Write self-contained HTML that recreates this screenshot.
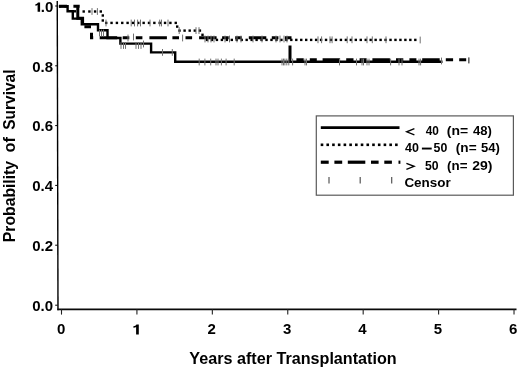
<!DOCTYPE html>
<html><head><meta charset="utf-8">
<style>
html,body{margin:0;padding:0;background:#fff;}
body{width:520px;height:369px;overflow:hidden;position:relative;}
svg{position:absolute;left:0;top:0;will-change:transform;}
text{font-family:"Liberation Sans",sans-serif;fill:#000;}
</style></head><body>
<svg width="520" height="369" viewBox="0 0 520 369">
<line x1="57.25" y1="1" x2="58.0" y2="310.15000000000003" stroke="#000" stroke-width="1.4"/>
<line x1="57.3" y1="309.35" x2="516.5" y2="309.35" stroke="#0a0a0a" stroke-width="1.6"/>
<line x1="55.2" y1="6" x2="57.55" y2="6" stroke="#000" stroke-width="1"/>
<line x1="55.2" y1="65.8" x2="57.55" y2="65.8" stroke="#000" stroke-width="1"/>
<line x1="55.2" y1="125.6" x2="57.55" y2="125.6" stroke="#000" stroke-width="1"/>
<line x1="55.2" y1="185.4" x2="57.55" y2="185.4" stroke="#000" stroke-width="1"/>
<line x1="55.2" y1="245.2" x2="57.55" y2="245.2" stroke="#000" stroke-width="1"/>
<line x1="55.2" y1="305.2" x2="57.55" y2="305.2" stroke="#000" stroke-width="1"/>
<line x1="61.5" y1="309.35" x2="61.5" y2="314.6" stroke="#222" stroke-width="1.1"/>
<line x1="136.92" y1="309.35" x2="136.92" y2="314.6" stroke="#222" stroke-width="1.1"/>
<line x1="212.34" y1="309.35" x2="212.34" y2="314.6" stroke="#222" stroke-width="1.1"/>
<line x1="287.76" y1="309.35" x2="287.76" y2="314.6" stroke="#222" stroke-width="1.1"/>
<line x1="363.18" y1="309.35" x2="363.18" y2="314.6" stroke="#222" stroke-width="1.1"/>
<line x1="438.6" y1="309.35" x2="438.6" y2="314.6" stroke="#222" stroke-width="1.1"/>
<line x1="514.02" y1="309.35" x2="514.02" y2="314.6" stroke="#222" stroke-width="1.1"/>
<text x="53.1" y="71.65" font-size="15.0" font-weight="bold" text-anchor="end">0.8</text>
<text x="53.1" y="131.45" font-size="15.0" font-weight="bold" text-anchor="end">0.6</text>
<text x="53.1" y="191.25" font-size="15.0" font-weight="bold" text-anchor="end">0.4</text>
<text x="53.1" y="251.05" font-size="15.0" font-weight="bold" text-anchor="end">0.2</text>
<text x="53.1" y="311.05" font-size="15.0" font-weight="bold" text-anchor="end">0.0</text>
<text x="53.3" y="12.1" font-size="15.0" font-weight="bold" text-anchor="end">.0</text>
<path d="M40.1 11.7L40.1 2.4L38 2.4Q37.3 3.8 35.4 4.3L35.4 5.7Q36.8 5.6 37.6 5.1L37.6 11.7Z" fill="#000"/>
<text x="61.05" y="334.3" font-size="15.0" font-weight="bold" text-anchor="middle">0</text>
<path d="M138.8 334.4L138.8 324.4L136.5 324.4Q135.8 325.8 133.4 326.3L133.4 327.7Q135.3 327.6 136.1 327.1L136.1 334.4Z" fill="#000"/>
<text x="211.79" y="334.3" font-size="15.0" font-weight="bold" text-anchor="middle">2</text>
<text x="287.16" y="334.3" font-size="15.0" font-weight="bold" text-anchor="middle">3</text>
<text x="362.53" y="334.3" font-size="15.0" font-weight="bold" text-anchor="middle">4</text>
<text x="437.9" y="334.3" font-size="15.0" font-weight="bold" text-anchor="middle">5</text>
<text x="513.27" y="334.3" font-size="15.0" font-weight="bold" text-anchor="middle">6</text>
<text x="189.34" y="363.7" font-size="16.2" font-weight="bold" textLength="207.34" lengthAdjust="spacingAndGlyphs">Years after Transplantation</text>
<text transform="translate(14.9,242.14) rotate(-90)" x="0" y="0" font-size="16.2" font-weight="bold" textLength="81.18" lengthAdjust="spacingAndGlyphs">Probability</text>
<text transform="translate(14.9,152.59) rotate(-90)" x="0" y="0" font-size="16.2" font-weight="bold" textLength="15.48" lengthAdjust="spacingAndGlyphs">of</text>
<text transform="translate(14.9,129.71) rotate(-90)" x="0" y="0" font-size="16.2" font-weight="bold" textLength="60.26" lengthAdjust="spacingAndGlyphs">Survival</text>
<rect x="316.3" y="115.9" width="197.1" height="79.3" fill="none" stroke="#5a5a5a" stroke-width="1.2"/>
<line x1="320.8" y1="127.6" x2="399.5" y2="127.6" stroke="#000" stroke-width="2.8"/>
<rect x="320.7" y="143.5" width="2.6" height="2.6" fill="#000"/>
<rect x="326.42" y="143.5" width="2.6" height="2.6" fill="#000"/>
<rect x="332.14" y="143.5" width="2.6" height="2.6" fill="#000"/>
<rect x="337.86" y="143.5" width="2.6" height="2.6" fill="#000"/>
<rect x="343.58" y="143.5" width="2.6" height="2.6" fill="#000"/>
<rect x="349.3" y="143.5" width="2.6" height="2.6" fill="#000"/>
<rect x="355.02" y="143.5" width="2.6" height="2.6" fill="#000"/>
<rect x="360.74" y="143.5" width="2.6" height="2.6" fill="#000"/>
<rect x="366.46" y="143.5" width="2.6" height="2.6" fill="#000"/>
<rect x="372.18" y="143.5" width="2.6" height="2.6" fill="#000"/>
<rect x="377.9" y="143.5" width="2.6" height="2.6" fill="#000"/>
<rect x="383.62" y="143.5" width="2.6" height="2.6" fill="#000"/>
<rect x="389.34" y="143.5" width="2.6" height="2.6" fill="#000"/>
<rect x="395.06" y="143.5" width="2.6" height="2.6" fill="#000"/>
<rect x="320.8" y="160.6" width="7.9" height="3.2" fill="#000"/>
<rect x="334.4" y="160.6" width="7.8" height="3.2" fill="#000"/>
<rect x="347.8" y="160.6" width="17.5" height="3.2" fill="#000"/>
<rect x="371" y="160.6" width="7.6" height="3.2" fill="#000"/>
<rect x="384.3" y="160.6" width="7.6" height="3.2" fill="#000"/>
<rect x="398.5" y="160.6" width="1.9" height="3.2" fill="#000"/>
<line x1="329" y1="177" x2="329" y2="183.6" stroke="#555" stroke-width="1.2"/>
<line x1="360.2" y1="177" x2="360.2" y2="183.6" stroke="#555" stroke-width="1.2"/>
<line x1="391.7" y1="177" x2="391.7" y2="183.6" stroke="#555" stroke-width="1.2"/>
<path d="M414.4 128.7L406.7 131.8L414.4 134.9" fill="none" stroke="#000" stroke-width="1.35"/>
<text x="425.63" y="135.2" font-size="13.0" font-weight="bold" textLength="13.15" lengthAdjust="spacingAndGlyphs">40</text>
<text x="446.79" y="135.2" font-size="13.0" font-weight="bold" textLength="21.33" lengthAdjust="spacingAndGlyphs">(n=</text>
<text x="473.02" y="135.2" font-size="13.0" font-weight="bold" textLength="18.89" lengthAdjust="spacingAndGlyphs">48)</text>
<text x="405.03" y="152.2" font-size="13.0" font-weight="bold" textLength="13.88" lengthAdjust="spacingAndGlyphs">40</text>
<text x="433.58" y="152.2" font-size="13.0" font-weight="bold" textLength="13.72" lengthAdjust="spacingAndGlyphs">50</text>
<text x="455.81" y="152.2" font-size="13.0" font-weight="bold" textLength="20.81" lengthAdjust="spacingAndGlyphs">(n=</text>
<text x="481.06" y="152.2" font-size="13.0" font-weight="bold" textLength="18.85" lengthAdjust="spacingAndGlyphs">54)</text>
<rect x="421.9" y="147.6" width="9.8" height="1.9" fill="#000"/>
<path d="M406.4 163.3L414.1 166.3L406.4 169.3" fill="none" stroke="#000" stroke-width="1.35"/>
<text x="424.98" y="169.8" font-size="13.0" font-weight="bold" textLength="13.61" lengthAdjust="spacingAndGlyphs">50</text>
<text x="447.12" y="169.8" font-size="13.0" font-weight="bold" textLength="20.39" lengthAdjust="spacingAndGlyphs">(n=</text>
<text x="472.23" y="169.8" font-size="13.0" font-weight="bold" textLength="20.22" lengthAdjust="spacingAndGlyphs">29)</text>
<text x="404.41" y="187" font-size="13.0" font-weight="bold" textLength="46.36" lengthAdjust="spacingAndGlyphs">Censor</text>
<path d="M59 6.3H67.6V11.3H72.8V18.6H81.8V24.2H98V30.3H107.5V38H120.4V43.6H151.1V52.4H175.2V61.7H442.5" fill="none" stroke="#000" stroke-width="2.4"/>
<path d="M59 6.3H67 M73.4 6.3H79.7 M77.8 6.3V18.2H82.6V23.5 M84.4 26.7H91 M91.5 32.7V37.8H93.2 M99.7 37.8H117.2 M122.7 37.8H129.3 M135.8 37.8H142.4 M149.4 37.8H166.9 M172.4 37.8H179 M185.5 37.8H192.1 M199.1 37.8H216.6 M222.1 37.8H228.7 M235.2 37.8H241.8 M248.8 37.8H266.3 M271.8 37.8H278.4 M284.9 37.8H290 M288.5 37.8H290V39.3 M290 45.5V59.8H291 M296.4 59.8H303.7 M309.8 59.8H316.8 M322.6 59.8H340.1 M346.2 59.8H353.5 M359.6 59.8H366.6 M372.4 59.8H389.9 M396 59.8H403.3 M409.4 59.8H416.4 M422.2 59.8H439.7 M445.8 59.8H453.1 M459.2 59.8H466.2" fill="none" stroke="#000" stroke-width="3.0"/>
<rect x="468" y="57.4" width="1.6" height="6" fill="#666"/>
<rect x="58.8" y="5.1" width="2.4" height="2.4" fill="#000"/>
<rect x="64.3" y="5.1" width="2.4" height="2.4" fill="#000"/>
<rect x="73.6" y="10.1" width="2.4" height="2.4" fill="#000"/>
<rect x="82.5" y="10.3" width="2.4" height="2.4" fill="#000"/>
<rect x="88.2" y="10.3" width="2.4" height="2.4" fill="#000"/>
<rect x="93.9" y="10.3" width="2.4" height="2.4" fill="#000"/>
<rect x="99.6" y="10.3" width="2.4" height="2.4" fill="#000"/>
<rect x="101.6" y="14.3" width="2.4" height="2.4" fill="#000"/>
<rect x="101.6" y="19.3" width="2.4" height="2.4" fill="#000"/>
<rect x="105" y="21.7" width="2.4" height="2.4" fill="#000"/>
<rect x="110.35" y="21.7" width="2.4" height="2.4" fill="#000"/>
<rect x="115.7" y="21.7" width="2.4" height="2.4" fill="#000"/>
<rect x="121.05" y="21.7" width="2.4" height="2.4" fill="#000"/>
<rect x="126.4" y="21.7" width="2.4" height="2.4" fill="#000"/>
<rect x="131.75" y="21.7" width="2.4" height="2.4" fill="#000"/>
<rect x="137.1" y="21.7" width="2.4" height="2.4" fill="#000"/>
<rect x="142.45" y="21.7" width="2.4" height="2.4" fill="#000"/>
<rect x="147.8" y="21.7" width="2.4" height="2.4" fill="#000"/>
<rect x="153.15" y="21.7" width="2.4" height="2.4" fill="#000"/>
<rect x="158.5" y="21.7" width="2.4" height="2.4" fill="#000"/>
<rect x="163.85" y="21.7" width="2.4" height="2.4" fill="#000"/>
<rect x="169.2" y="21.7" width="2.4" height="2.4" fill="#000"/>
<rect x="174.55" y="21.7" width="2.4" height="2.4" fill="#000"/>
<rect x="176" y="25.4" width="2.4" height="2.4" fill="#000"/>
<rect x="178.3" y="29.4" width="2.4" height="2.4" fill="#000"/>
<rect x="183.4" y="29.4" width="2.4" height="2.4" fill="#000"/>
<rect x="188.5" y="29.4" width="2.4" height="2.4" fill="#000"/>
<rect x="193.6" y="29.4" width="2.4" height="2.4" fill="#000"/>
<rect x="198.7" y="29.4" width="2.4" height="2.4" fill="#000"/>
<rect x="201.3" y="33.6" width="2.4" height="2.4" fill="#000"/>
<rect x="205.8" y="38.7" width="2.4" height="2.4" fill="#000"/>
<rect x="210.76" y="38.7" width="2.4" height="2.4" fill="#000"/>
<rect x="215.72" y="38.7" width="2.4" height="2.4" fill="#000"/>
<rect x="220.68" y="38.7" width="2.4" height="2.4" fill="#000"/>
<rect x="225.64" y="38.7" width="2.4" height="2.4" fill="#000"/>
<rect x="230.6" y="38.7" width="2.4" height="2.4" fill="#000"/>
<rect x="235.56" y="38.7" width="2.4" height="2.4" fill="#000"/>
<rect x="240.52" y="38.7" width="2.4" height="2.4" fill="#000"/>
<rect x="245.48" y="38.7" width="2.4" height="2.4" fill="#000"/>
<rect x="250.44" y="38.7" width="2.4" height="2.4" fill="#000"/>
<rect x="255.4" y="38.7" width="2.4" height="2.4" fill="#000"/>
<rect x="260.36" y="38.7" width="2.4" height="2.4" fill="#000"/>
<rect x="265.32" y="38.7" width="2.4" height="2.4" fill="#000"/>
<rect x="270.28" y="38.7" width="2.4" height="2.4" fill="#000"/>
<rect x="275.24" y="38.7" width="2.4" height="2.4" fill="#000"/>
<rect x="280.2" y="38.7" width="2.4" height="2.4" fill="#000"/>
<rect x="285.16" y="38.7" width="2.4" height="2.4" fill="#000"/>
<rect x="290.12" y="38.7" width="2.4" height="2.4" fill="#000"/>
<rect x="295.08" y="38.7" width="2.4" height="2.4" fill="#000"/>
<rect x="300.04" y="38.7" width="2.4" height="2.4" fill="#000"/>
<rect x="305" y="38.7" width="2.4" height="2.4" fill="#000"/>
<rect x="309.96" y="38.7" width="2.4" height="2.4" fill="#000"/>
<rect x="314.92" y="38.7" width="2.4" height="2.4" fill="#000"/>
<rect x="319.88" y="38.7" width="2.4" height="2.4" fill="#000"/>
<rect x="324.84" y="38.7" width="2.4" height="2.4" fill="#000"/>
<rect x="329.8" y="38.7" width="2.4" height="2.4" fill="#000"/>
<rect x="334.76" y="38.7" width="2.4" height="2.4" fill="#000"/>
<rect x="339.72" y="38.7" width="2.4" height="2.4" fill="#000"/>
<rect x="344.68" y="38.7" width="2.4" height="2.4" fill="#000"/>
<rect x="349.64" y="38.7" width="2.4" height="2.4" fill="#000"/>
<rect x="354.6" y="38.7" width="2.4" height="2.4" fill="#000"/>
<rect x="359.56" y="38.7" width="2.4" height="2.4" fill="#000"/>
<rect x="364.52" y="38.7" width="2.4" height="2.4" fill="#000"/>
<rect x="369.48" y="38.7" width="2.4" height="2.4" fill="#000"/>
<rect x="374.44" y="38.7" width="2.4" height="2.4" fill="#000"/>
<rect x="379.4" y="38.7" width="2.4" height="2.4" fill="#000"/>
<rect x="384.36" y="38.7" width="2.4" height="2.4" fill="#000"/>
<rect x="389.32" y="38.7" width="2.4" height="2.4" fill="#000"/>
<rect x="394.28" y="38.7" width="2.4" height="2.4" fill="#000"/>
<rect x="399.24" y="38.7" width="2.4" height="2.4" fill="#000"/>
<rect x="404.2" y="38.7" width="2.4" height="2.4" fill="#000"/>
<rect x="409.16" y="38.7" width="2.4" height="2.4" fill="#000"/>
<rect x="414.12" y="38.7" width="2.4" height="2.4" fill="#000"/>
<line x1="92" y1="8.1" x2="92" y2="14.9" stroke="#707070" stroke-width="1"/>
<line x1="97.4" y1="8.1" x2="97.4" y2="14.9" stroke="#707070" stroke-width="1"/>
<line x1="99.5" y1="29.6" x2="99.5" y2="36.4" stroke="#707070" stroke-width="1"/>
<line x1="101.5" y1="29.6" x2="101.5" y2="36.4" stroke="#707070" stroke-width="1"/>
<line x1="103.5" y1="29.6" x2="103.5" y2="36.4" stroke="#707070" stroke-width="1"/>
<line x1="106" y1="19.6" x2="106" y2="26.4" stroke="#707070" stroke-width="1"/>
<line x1="131.2" y1="19.6" x2="131.2" y2="26.4" stroke="#707070" stroke-width="1"/>
<line x1="134.5" y1="19.6" x2="134.5" y2="26.4" stroke="#707070" stroke-width="1"/>
<line x1="137.6" y1="19.6" x2="137.6" y2="26.4" stroke="#707070" stroke-width="1"/>
<line x1="140.5" y1="19.6" x2="140.5" y2="26.4" stroke="#707070" stroke-width="1"/>
<line x1="128" y1="34.6" x2="128" y2="41.4" stroke="#707070" stroke-width="1"/>
<line x1="133.5" y1="33.6" x2="133.5" y2="40.4" stroke="#707070" stroke-width="1"/>
<line x1="121" y1="42.1" x2="121" y2="48.9" stroke="#707070" stroke-width="1"/>
<line x1="123.5" y1="42.1" x2="123.5" y2="48.9" stroke="#707070" stroke-width="1"/>
<line x1="125.5" y1="42.1" x2="125.5" y2="48.9" stroke="#707070" stroke-width="1"/>
<line x1="136" y1="42.1" x2="136" y2="48.9" stroke="#707070" stroke-width="1"/>
<line x1="138.5" y1="42.1" x2="138.5" y2="48.9" stroke="#707070" stroke-width="1"/>
<line x1="141" y1="42.1" x2="141" y2="48.9" stroke="#707070" stroke-width="1"/>
<line x1="143.5" y1="40.6" x2="143.5" y2="47.4" stroke="#707070" stroke-width="1"/>
<line x1="150" y1="19.6" x2="150" y2="26.4" stroke="#707070" stroke-width="1"/>
<line x1="159.7" y1="19.6" x2="159.7" y2="26.4" stroke="#707070" stroke-width="1"/>
<line x1="161.5" y1="19.6" x2="161.5" y2="26.4" stroke="#707070" stroke-width="1"/>
<line x1="168" y1="19.6" x2="168" y2="26.4" stroke="#707070" stroke-width="1"/>
<line x1="179.2" y1="27.2" x2="179.2" y2="34" stroke="#707070" stroke-width="1"/>
<line x1="196" y1="27.2" x2="196" y2="34" stroke="#707070" stroke-width="1"/>
<line x1="199" y1="27.2" x2="199" y2="34" stroke="#707070" stroke-width="1"/>
<line x1="162.5" y1="49" x2="162.5" y2="55.8" stroke="#707070" stroke-width="1"/>
<line x1="172.3" y1="49" x2="172.3" y2="55.8" stroke="#707070" stroke-width="1"/>
<line x1="282" y1="58.6" x2="282" y2="65.4" stroke="#707070" stroke-width="1"/>
<line x1="283.5" y1="58.6" x2="283.5" y2="65.4" stroke="#707070" stroke-width="1"/>
<line x1="284.9" y1="58.6" x2="284.9" y2="65.4" stroke="#707070" stroke-width="1"/>
<line x1="286.8" y1="58.6" x2="286.8" y2="65.4" stroke="#707070" stroke-width="1"/>
<line x1="288.8" y1="58.6" x2="288.8" y2="65.4" stroke="#707070" stroke-width="1"/>
<line x1="292.6" y1="58.6" x2="292.6" y2="65.4" stroke="#707070" stroke-width="1"/>
<line x1="305" y1="58.6" x2="305" y2="65.4" stroke="#707070" stroke-width="1"/>
<line x1="306.5" y1="58.6" x2="306.5" y2="65.4" stroke="#707070" stroke-width="1"/>
<line x1="318" y1="36.4" x2="318" y2="43.2" stroke="#707070" stroke-width="1"/>
<line x1="330" y1="36.4" x2="330" y2="43.2" stroke="#707070" stroke-width="1"/>
<line x1="352" y1="36.4" x2="352" y2="43.2" stroke="#707070" stroke-width="1"/>
<line x1="367" y1="36.4" x2="367" y2="43.2" stroke="#707070" stroke-width="1"/>
<line x1="372.3" y1="36.4" x2="372.3" y2="43.2" stroke="#707070" stroke-width="1"/>
<line x1="386" y1="36.4" x2="386" y2="43.2" stroke="#707070" stroke-width="1"/>
<line x1="420.2" y1="36.6" x2="420.2" y2="43.4" stroke="#707070" stroke-width="1"/>
<line x1="441.5" y1="57.6" x2="441.5" y2="64.4" stroke="#707070" stroke-width="1"/>
<line x1="182.6" y1="34.6" x2="182.6" y2="41.4" stroke="#707070" stroke-width="1"/>
<line x1="199.2" y1="58.6" x2="199.2" y2="65.4" stroke="#707070" stroke-width="1"/>
<line x1="204.9" y1="58.6" x2="204.9" y2="65.4" stroke="#707070" stroke-width="1"/>
<line x1="210.7" y1="58.6" x2="210.7" y2="65.4" stroke="#707070" stroke-width="1"/>
<line x1="216" y1="58.6" x2="216" y2="65.4" stroke="#707070" stroke-width="1"/>
<line x1="218" y1="58.6" x2="218" y2="65.4" stroke="#707070" stroke-width="1"/>
<line x1="221.4" y1="58.6" x2="221.4" y2="65.4" stroke="#707070" stroke-width="1"/>
<line x1="226.1" y1="58.6" x2="226.1" y2="65.4" stroke="#707070" stroke-width="1"/>
<line x1="234.2" y1="58.6" x2="234.2" y2="65.4" stroke="#707070" stroke-width="1"/>
<line x1="339.5" y1="58.6" x2="339.5" y2="65.4" stroke="#707070" stroke-width="1"/>
<line x1="356.5" y1="58.6" x2="356.5" y2="65.4" stroke="#707070" stroke-width="1"/>
<line x1="362" y1="58.6" x2="362" y2="65.4" stroke="#707070" stroke-width="1"/>
<line x1="363.5" y1="58.6" x2="363.5" y2="65.4" stroke="#707070" stroke-width="1"/>
<line x1="367" y1="58.6" x2="367" y2="65.4" stroke="#707070" stroke-width="1"/>
<line x1="369" y1="58.6" x2="369" y2="65.4" stroke="#707070" stroke-width="1"/>
<line x1="390.6" y1="58.6" x2="390.6" y2="65.4" stroke="#707070" stroke-width="1"/>
<line x1="399" y1="58.6" x2="399" y2="65.4" stroke="#707070" stroke-width="1"/>
<line x1="402" y1="58.6" x2="402" y2="65.4" stroke="#707070" stroke-width="1"/>
<line x1="419" y1="58.6" x2="419" y2="65.4" stroke="#707070" stroke-width="1"/>
<line x1="420.6" y1="58.6" x2="420.6" y2="65.4" stroke="#707070" stroke-width="1"/>
<line x1="321.6" y1="36.4" x2="321.6" y2="43.2" stroke="#707070" stroke-width="1"/>
<line x1="332.1" y1="36.4" x2="332.1" y2="43.2" stroke="#707070" stroke-width="1"/>
<line x1="347.2" y1="36.4" x2="347.2" y2="43.2" stroke="#707070" stroke-width="1"/>
<line x1="205" y1="35.6" x2="205" y2="42.4" stroke="#707070" stroke-width="1"/>
<line x1="208" y1="35.6" x2="208" y2="42.4" stroke="#707070" stroke-width="1"/>
<line x1="211" y1="35.6" x2="211" y2="42.4" stroke="#707070" stroke-width="1"/>
<line x1="214" y1="35.6" x2="214" y2="42.4" stroke="#707070" stroke-width="1"/>
<line x1="225" y1="35.6" x2="225" y2="42.4" stroke="#707070" stroke-width="1"/>
<line x1="229.5" y1="35.6" x2="229.5" y2="42.4" stroke="#707070" stroke-width="1"/>
<line x1="237" y1="35.6" x2="237" y2="42.4" stroke="#707070" stroke-width="1"/>
<line x1="241" y1="35.6" x2="241" y2="42.4" stroke="#707070" stroke-width="1"/>
<line x1="253" y1="35.6" x2="253" y2="42.4" stroke="#707070" stroke-width="1"/>
<line x1="262" y1="35.6" x2="262" y2="42.4" stroke="#707070" stroke-width="1"/>
<line x1="276" y1="35.6" x2="276" y2="42.4" stroke="#707070" stroke-width="1"/>
<line x1="280" y1="35.6" x2="280" y2="42.4" stroke="#707070" stroke-width="1"/>
<line x1="284" y1="35.6" x2="284" y2="42.4" stroke="#707070" stroke-width="1"/>
<line x1="287" y1="35.6" x2="287" y2="42.4" stroke="#707070" stroke-width="1"/>
</svg>
</body></html>
